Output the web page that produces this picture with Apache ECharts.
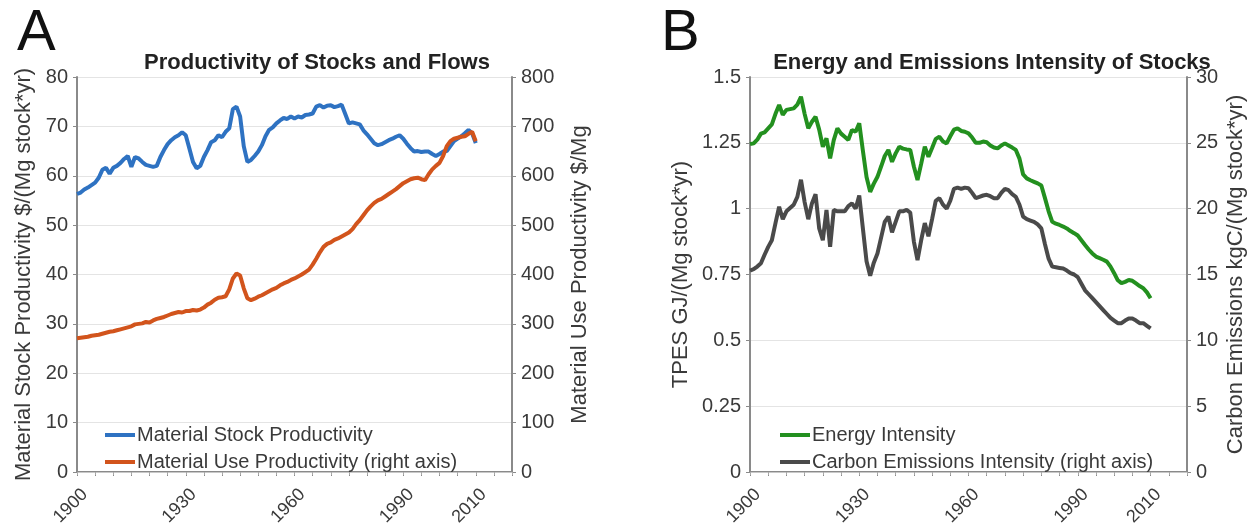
<!DOCTYPE html>
<html><head><meta charset="utf-8">
<script src="https://cdn.jsdelivr.net/npm/echarts@6/dist/echarts.min.js"></script>
<style>html,body{margin:0;padding:0;background:#fff}#c{width:1248px;height:531px}</style>
</head><body><div id="c"></div>
<script>
// ---- data ----
const startYear = 1900;
const xTickLabels = [1900, 1930, 1960, 1990, 2010];
const stockProductivity = [56.3,56.6,57.2,57.6,58.1,58.6,59.6,61.2,61.6,60.4,61.6,62.0,62.6,63.4,64.0,61.8,63.8,63.5,62.8,62.2,62.0,61.8,62.0,63.8,65.2,66.4,67.2,67.8,68.2,68.8,68.2,65.5,62.8,61.5,62.0,63.8,65.2,66.8,67.2,68.2,67.8,68.9,69.6,73.5,74.0,72.0,66.0,62.8,63.2,64.0,64.9,66.2,68.0,69.3,69.8,70.6,71.2,71.7,71.5,72.0,71.6,72.0,71.8,72.3,72.4,72.6,74.0,74.3,73.8,74.2,74.3,73.9,74.1,74.4,72.5,70.6,70.8,70.6,70.4,69.2,68.4,67.5,66.6,66.2,66.4,66.8,67.2,67.5,67.9,68.2,67.5,66.5,65.6,64.9,65.0,64.8,64.9,64.9,64.4,64.0,64.4,64.9,65.0,66.0,67.0,67.5,68.0,68.6,69.3,68.6,66.6];
const useProductivity = [271,272,273,274,276,277,278,280,282,284,285,287,289,291,293,295,299,300,301,304,303,307,310,312,314,317,320,322,324,323,326,326,328,327,329,333,339,343,349,353,354,356,370,392,402,398,372,352,348,351,355,358,362,366,370,373,378,382,385,389,392,396,400,405,410,420,432,445,456,462,465,470,473,477,481,485,492,502,510,520,530,538,545,550,553,558,563,568,573,579,585,589,593,595,596,593,591,603,613,620,626,640,660,670,675,677,679,680,685,689,670];
const energyIntensity = [1.245,1.248,1.262,1.285,1.29,1.305,1.32,1.36,1.394,1.356,1.375,1.378,1.381,1.395,1.425,1.36,1.305,1.33,1.349,1.30,1.235,1.267,1.191,1.26,1.305,1.285,1.273,1.261,1.299,1.292,1.324,1.22,1.12,1.064,1.095,1.121,1.16,1.20,1.223,1.178,1.21,1.235,1.228,1.225,1.223,1.16,1.109,1.17,1.235,1.197,1.23,1.265,1.273,1.255,1.248,1.275,1.30,1.305,1.295,1.292,1.286,1.27,1.25,1.25,1.255,1.252,1.24,1.232,1.229,1.24,1.248,1.24,1.232,1.223,1.19,1.13,1.115,1.108,1.102,1.096,1.088,1.04,0.99,0.950,0.943,0.938,0.932,0.925,0.915,0.907,0.898,0.88,0.862,0.845,0.830,0.818,0.812,0.806,0.799,0.78,0.755,0.728,0.717,0.722,0.729,0.726,0.716,0.706,0.698,0.682,0.660];
const carbonIntensity = [15.3,15.4,15.6,15.85,16.5,17.1,17.6,18.9,20.15,19.2,19.8,20.05,20.3,20.9,22.2,20.5,19.2,20.4,21.1,18.5,17.6,19.9,17.1,19.9,19.8,19.8,19.8,20.2,20.4,20.0,21.0,18.5,16.0,14.9,15.9,16.6,17.8,19.0,19.4,18.2,19.0,19.8,19.8,19.9,19.7,17.5,16.1,17.6,18.9,17.9,19.2,20.6,20.8,20.3,20.0,20.6,21.5,21.6,21.5,21.6,21.55,21.2,20.8,20.9,21.0,21.05,20.95,20.8,20.8,21.2,21.5,21.4,21.1,20.9,20.3,19.4,19.2,19.1,19.0,18.8,18.5,17.3,16.2,15.6,15.55,15.5,15.45,15.3,15.1,15.0,14.8,14.3,13.8,13.5,13.2,12.9,12.6,12.3,12.0,11.7,11.5,11.3,11.3,11.5,11.65,11.65,11.5,11.3,11.3,11.1,10.9];

const pairs = arr => arr.map((v, i) => [startYear + i, v]);

const FONT = 'Liberation Sans, Arial, sans-serif';
const AXC = '#8a8a8a';
const TXT = '#3a3a3a';

function xAxes(gi) {
  return [{
    type: 'value', gridIndex: gi, min: 1900, max: 2020, interval: 5,
    axisLine: { lineStyle: { color: AXC, width: 2 } },
    axisTick: { length: 4, lineStyle: { color: AXC } },
    splitLine: { show: false },
    axisLabel: {
      rotate: 45, fontSize: 18, color: TXT, fontFamily: FONT, margin: 12,
      formatter: v => xTickLabels.indexOf(v) >= 0 ? '{y|' + v + '}' : '',
      rich: { y: { fontSize: 18, color: TXT, fontFamily: FONT, padding: [22, 0, 0, 0] } }
    }
  }, {
    type: 'value', gridIndex: gi, position: 'top', min: 1900, max: 2020, interval: 5,
    axisLine: { lineStyle: { color: '#c8c8c8', width: 1 } },
    axisTick: { inside: true, length: 3, lineStyle: { color: '#aaa' } },
    splitLine: { show: false }, axisLabel: { show: false }
  }];
}
function yAxis(gi, pos, min, max, interval, name, gap, fmt, split) {
  return {
    type: 'value', gridIndex: gi, position: pos, min, max, interval,
    name, nameLocation: 'middle', nameGap: gap, nameRotate: 90,
    nameTextStyle: { fontSize: 22, color: TXT, fontFamily: FONT },
    axisLine: { show: true, lineStyle: { color: AXC, width: 2 } },
    axisTick: { show: true, length: 4, lineStyle: { color: AXC } },
    axisLabel: { fontSize: 20, color: TXT, fontFamily: FONT, margin: 9, formatter: fmt },
    splitLine: { show: split, lineStyle: { color: '#e4e4e4', width: 1 } }
  };
}
const lineS = (name, data, xi, yi, color) => ({
  name, type: 'line', data: pairs(data), xAxisIndex: xi, yAxisIndex: yi,
  showSymbol: false, symbol: 'none', lineStyle: { width: 4, color }, itemStyle: { color },
  animation: false
});

const chart = echarts.init(document.getElementById('c'), null, { renderer: 'canvas' });
chart.setOption({
  animation: false,
  textStyle: { fontFamily: FONT },
  title: [
    { text: 'A', left: 12, top: 0, textStyle: { fontSize: 58, fontWeight: 'normal', color: '#111', fontFamily: FONT } },
    { text: 'B', left: 656, top: 0, textStyle: { fontSize: 58, fontWeight: 'normal', color: '#111', fontFamily: FONT } },
    { text: 'Productivity of Stocks and Flows', left: 312, top: 47, textAlign: 'center', textStyle: { fontSize: 22, fontWeight: 'bold', color: '#222', fontFamily: FONT } },
    { text: 'Energy and Emissions Intensity of Stocks', left: 987, top: 47, textAlign: 'center', textStyle: { fontSize: 22, fontWeight: 'bold', color: '#222', fontFamily: FONT } }
  ],
  grid: [
    { left: 77, top: 77, width: 435, height: 395 },
    { left: 750, top: 77, width: 438, height: 395 }
  ],
  xAxis: [...xAxes(0), ...xAxes(1)],
  yAxis: [
    yAxis(0, 'left', 0, 80, 10, 'Material Stock Productivity $/(Mg stock*yr)', 42, v => v, true),
    yAxis(0, 'right', 0, 800, 100, 'Material Use Productivity $/Mg', 57, v => v, false),
    yAxis(1, 'left', 0, 1.5, 0.25, 'TPES GJ/(Mg stock*yr)', 58, v => String(v), true),
    yAxis(1, 'right', 0, 30, 5, 'Carbon Emissions kgC/(Mg stock*yr)', 38, v => v, false)
  ],
  legend: [
    { data: ['Material Stock Productivity', 'Material Use Productivity (right axis)'], orient: 'vertical', left: 100, top: 420, itemWidth: 30, itemHeight: 4, itemGap: 7, icon: 'rect',
      textStyle: { fontSize: 20, color: TXT, fontFamily: FONT, lineHeight: 20, padding: [0, 0, 0, -3] } },
    { data: ['Energy Intensity', 'Carbon Emissions Intensity (right axis)'], orient: 'vertical', left: 775, top: 420, itemWidth: 30, itemHeight: 4, itemGap: 7, icon: 'rect',
      textStyle: { fontSize: 20, color: TXT, fontFamily: FONT, lineHeight: 20, padding: [0, 0, 0, -3] } }
  ],
  series: [
    lineS('Material Stock Productivity', stockProductivity, 0, 0, '#2e72c2'),
    lineS('Material Use Productivity (right axis)', useProductivity, 0, 1, '#d2541c'),
    lineS('Energy Intensity', energyIntensity, 2, 2, '#23901f'),
    lineS('Carbon Emissions Intensity (right axis)', carbonIntensity, 2, 3, '#4a4a4a')
  ]
});
</script>
</body></html>
